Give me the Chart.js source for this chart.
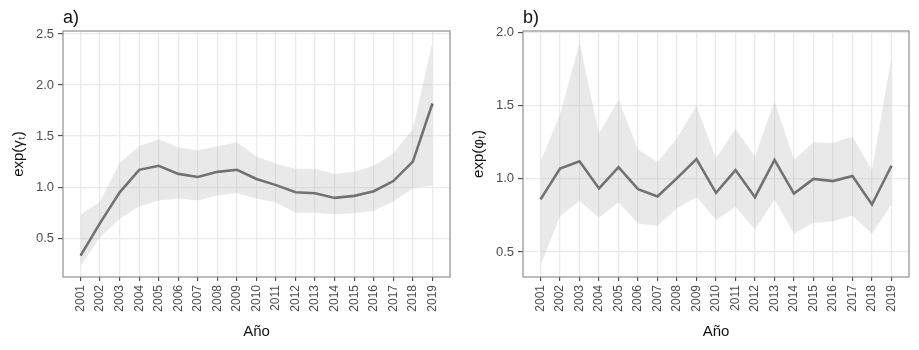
<!DOCTYPE html>
<html>
<head>
<meta charset="utf-8">
<script src="https://cdn.jsdelivr.net/npm/chart.js@4.4.1/dist/chart.umd.min.js"></script>
<style>
body{margin:0;background:#fff;width:919px;height:350px;overflow:hidden;font-family:"Liberation Sans",Arial,sans-serif;}
.panel{position:absolute;top:0;height:350px;}
.tag{position:absolute;top:7px;font-size:18px;color:#111;}
</style>
</head>
<body>
<div class="panel" style="left:0;width:460px"><canvas id="chartA" width="460" height="350"></canvas></div>
<div class="panel" style="left:460px;width:459px"><canvas id="chartB" width="459" height="350"></canvas></div>
<div class="tag" style="left:63px">a)</div>
<div class="tag" style="left:523px">b)</div>
<script>
const years=[2001,2002,2003,2004,2005,2006,2007,2008,2009,2010,2011,2012,2013,2014,2015,2016,2017,2018,2019];

// panel a) exp(gamma_t)
const gammaMean=[0.33,0.65,0.95,1.17,1.21,1.13,1.10,1.15,1.17,1.08,1.02,0.95,0.94,0.895,0.915,0.96,1.06,1.25,1.82];
const gammaLower=[0.23,0.51,0.69,0.81,0.87,0.89,0.87,0.92,0.94,0.89,0.85,0.75,0.75,0.735,0.745,0.77,0.86,0.99,1.02];
const gammaUpper=[0.73,0.86,1.24,1.40,1.47,1.39,1.36,1.40,1.44,1.30,1.23,1.18,1.18,1.13,1.15,1.21,1.33,1.57,2.42];
const gammaTicks=[0.5,1.0,1.5,2.0,2.5];

// panel b) exp(phi_t)
const phiMean=[0.86,1.07,1.12,0.935,1.08,0.93,0.88,1.005,1.135,0.905,1.06,0.875,1.13,0.90,1.00,0.985,1.02,0.825,1.09];
const phiLower=[0.41,0.745,0.85,0.735,0.84,0.695,0.68,0.80,0.875,0.72,0.81,0.655,0.86,0.625,0.70,0.71,0.75,0.625,0.825];
const phiUpper=[1.12,1.44,1.93,1.31,1.54,1.20,1.115,1.28,1.50,1.14,1.34,1.155,1.53,1.13,1.25,1.245,1.29,1.06,1.83];
const phiTicks=[0.5,1.0,1.5,2.0];

const FONT="'Liberation Sans', Arial, sans-serif";

const pts=arr=>arr.map((v,i)=>({x:years[i],y:v}));

// grey frame round the plot area (ggplot panel border)
const frame={
    id:"frame",
    afterDatasetsDraw(chart){
        const a=chart.chartArea, c=chart.ctx;
        c.save();
        c.strokeStyle="#8f8f8f";
        c.lineWidth=1.2;
        c.strokeRect(a.left,a.top,a.right-a.left,a.bottom-a.top);
        c.restore();
    }
};

function makeChart(id,mean,lower,upper,yTicks,yMin,yMax,yTitle){
    return new Chart(document.getElementById(id),{
        type:"line",
        data:{
            datasets:[
                {data:pts(upper),borderWidth:0,pointRadius:0,fill:"+1",backgroundColor:"rgba(175,175,175,0.28)"},
                {data:pts(lower),borderWidth:0,pointRadius:0,fill:false},
                {data:pts(mean),borderColor:"#5a5a5a",borderWidth:2.6,pointRadius:0,fill:false,tension:0}
            ]
        },
        options:{
            responsive:false,
            animation:false,
            devicePixelRatio:1,
            layout:{padding:{top:31,right:10,left:0,bottom:0}},
            plugins:{legend:{display:false},tooltip:{enabled:false}},
            scales:{
                x:{
                    type:"linear",
                    min:2000.1,max:2019.9,
                    afterBuildTicks:s=>{s.ticks=years.map(v=>({value:v}));},
                    afterFit:s=>{s.height=73;},
                    grid:{color:"#ebebeb",lineWidth:1.3,tickColor:"#333",tickLength:4,tickWidth:1},
                    border:{display:false},
                    ticks:{
                        autoSkip:false,minRotation:90,maxRotation:90,padding:4,
                        color:"#4d4d4d",font:{family:FONT,size:12},
                        callback:v=>String(v)
                    },
                    title:{display:true,text:"Año",color:"#111",font:{family:FONT,size:15},padding:{top:0,bottom:9}}
                },
                y:{
                    min:yMin,max:yMax,
                    afterBuildTicks:s=>{s.ticks=yTicks.map(v=>({value:v}));},
                    afterFit:s=>{s.width=63;},
                    grid:{color:"#ebebeb",lineWidth:1.3,tickColor:"#333",tickLength:5,tickWidth:1},
                    border:{display:false},
                    ticks:{
                        padding:4,color:"#4d4d4d",font:{family:FONT,size:13},
                        callback:v=>v.toFixed(1)
                    },
                    title:{display:true,text:yTitle,color:"#111",font:{family:FONT,size:15},padding:{top:10,bottom:0}}
                }
            }
        },
        plugins:[frame]
    });
}

makeChart("chartA",gammaMean,gammaLower,gammaUpper,gammaTicks,0.12,2.53,"exp(γₜ)");
makeChart("chartB",phiMean,phiLower,phiUpper,phiTicks,0.33,2.01,"exp(φₜ)");
</script>
</body>
</html>
